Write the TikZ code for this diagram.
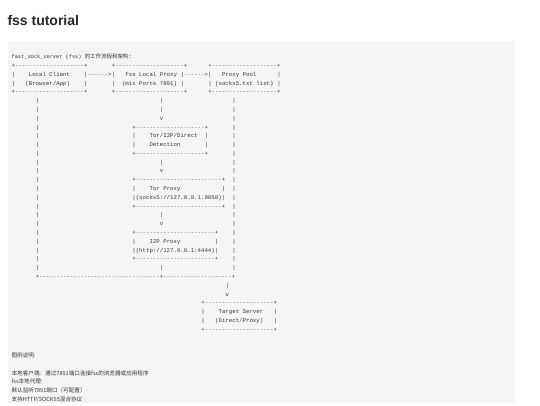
\documentclass[tikz,border=0pt]{standalone}
\usepackage{fontspec}
\setmonofont{Liberation Mono}
\newfontfamily\cjk{Noto Sans CJK SC}
\newfontfamily\titlefont{Liberation Sans}
\definecolor{codebg}{RGB}{245,245,245}
\definecolor{codefg}{RGB}{55,55,55}
\definecolor{dashfg}{RGB}{110,110,110}
\definecolor{titlefg}{RGB}{40,40,40}
\newcount\dcnt
\newcommand\dd[1]{{\color{dashfg}\dcnt=#1\relax\loop\ifnum\dcnt>0 -\advance\dcnt-1 \repeat}}
\newcommand\zh[1]{{\fontsize{5.46}{6}\selectfont\cjk #1}}
\tikzset{
  mono/.style={font=\fontsize{5.73}{6}\selectfont\ttfamily, anchor=base west, inner sep=0pt, outer sep=0pt, text=codefg},
  zhtxt/.style={font=\fontsize{5.6}{6}\selectfont\cjk, anchor=base west, inner sep=0pt, outer sep=0pt, text=codefg},
}
\newcommand\seg[3]{\node[mono] (n#1c#2) at ({11.6+3.45*#2},{58.7+8.79*#1}) {#3};}
\newcommand\vlines[1]{\seg{#1}{7}{|}\seg{#1}{64}{|}}
\begin{document}
\begin{tikzpicture}[x=1pt,y=-1pt]
\useasboundingbox (0,0) rectangle (540,405);
\fill[white] (0,0) rectangle (540,405);
\fill[codebg] (8,41) rectangle (515,403);
\node[anchor=base west, inner sep=0pt, font=\fontsize{14}{16}\selectfont\titlefont\bfseries, text=titlefg] (title) at (7.3,25.5) {fss tutorial};
% line 0
\node[mono] (n0) at (11.6,58.7) {{\fontsize{5.3}{6}\selectfont fast\_sock\_server~(fss)~}\zh{的工作流程和架构}:};
% top boxes
\seg{1}{0}{+\dd{20}+}\seg{1}{29}{+\dd{20}+}\seg{1}{57}{+\dd{19}+}
\seg{2}{0}{|}\seg{2}{5}{Local Client}\seg{2}{21}{|\dd{6}>|}\seg{2}{33}{fss Local Proxy}\seg{2}{49}{|\dd{6}>|}\seg{2}{61}{Proxy Pool}\seg{2}{77}{|}
\seg{3}{0}{|}\seg{3}{4}{(Browser/App)}\seg{3}{21}{|}\seg{3}{29}{|}\seg{3}{32}{(mix Ports 7891)}\seg{3}{49}{|}\seg{3}{57}{|}\seg{3}{59}{(socks5.txt list)}\seg{3}{77}{|}
\seg{4}{0}{+\dd{20}+}\seg{4}{29}{+\dd{20}+}\seg{4}{57}{+\dd{19}+}
% flow
\vlines{5}\seg{5}{43}{|}
\vlines{6}\seg{6}{43}{|}
\vlines{7}\seg{7}{43}{v}
\vlines{8}\seg{8}{35}{+\dd{20}+}
\vlines{9}\seg{9}{35}{|}\seg{9}{40}{Tor/I2P/Direct}\seg{9}{56}{|}
\vlines{10}\seg{10}{35}{|}\seg{10}{40}{Detection}\seg{10}{56}{|}
\vlines{11}\seg{11}{35}{+\dd{20}+}
\vlines{12}\seg{12}{43}{|}
\vlines{13}\seg{13}{43}{v}
\vlines{14}\seg{14}{35}{+\dd{25}+}
\vlines{15}\seg{15}{35}{|}\seg{15}{40}{Tor Proxy}\seg{15}{61}{|}
\vlines{16}\seg{16}{35}{|(socks5://127.0.0.1:9050)|}
\vlines{17}\seg{17}{35}{+\dd{25}+}
\vlines{18}\seg{18}{43}{|}
\vlines{19}\seg{19}{43}{v}
\vlines{20}\seg{20}{35}{+\dd{23}+}
\vlines{21}\seg{21}{35}{|}\seg{21}{40}{I2P Proxy}\seg{21}{59}{|}
\vlines{22}\seg{22}{35}{|(http://127.0.0.1:4444)|}
\vlines{23}\seg{23}{35}{+\dd{23}+}
\vlines{24}\seg{24}{43}{|}
\seg{25}{7}{+\dd{35}+\dd{20}+}
\seg{26}{62}{|}
\seg{27}{62}{v}
\seg{28}{55}{+\dd{20}+}
\seg{29}{55}{|}\seg{29}{60}{Target Server}\seg{29}{76}{|}
\seg{30}{55}{|}\seg{30}{59}{(Direct/Proxy)}\seg{30}{76}{|}
\seg{31}{55}{+\dd{20}+}
% legend
\node[zhtxt] (n34) at (11.6,{58.7+8.79*34}) {图例说明:};
\node[zhtxt] (n36) at (11.6,{58.7+8.79*36}) {本地客户端：通过7891端口连接fss的浏览器或应用程序};
\node[zhtxt] (n37) at (11.6,{58.7+8.79*37}) {fss本地代理:};
\node[zhtxt] (n38) at (11.6,{58.7+8.79*38}) {默认监听7891端口（可配置）};
\node[zhtxt] (n39) at (11.6,{58.7+8.79*39}) {支持HTTP/SOCKS5混合协议};
\end{tikzpicture}
\end{document}
